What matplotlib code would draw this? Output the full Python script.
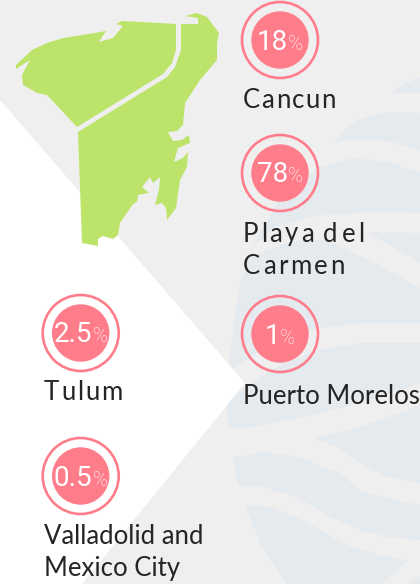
import matplotlib
matplotlib.use('Agg')
from matplotlib import pyplot as plt
from matplotlib.patches import Circle, Polygon

# 値とラベル
values = ['18', '78', '1', '2.5', '0.5']
labels = ['Cancun', 'Playa del\nCarmen', 'Puerto Morelos', 'Tulum', 'Valladolid and\nMexico City']
label_spacing = [1.4, 2.5, 0, 1.8, 0]

# 円の中心（ピクセル）
circle_x = [280, 280, 280, 80.7, 80.7]
circle_y = [40, 173, 334, 333, 476]
label_x = [243, 243, 243, 44, 44]
label_y = [108, 241.5, 404, 400.5, 544]

PINK = '#ff7d8b'
GREEN = '#bde46a'
GREY = '#efefef'
BLUE = '#e5eaef'
INK = '#242424'
FONT = 'Lato'
VALUE_FONT = 'Roboto'

# 背景の形
white_wedge = [(0, 100), (245, 383), (82, 584), (0, 584)]
blue_top = [(392, 93), (405, 84), (420, 77), (420, 93)]
blue_band1 = [(333, 143), (342, 132), (353, 123), (366, 117), (380, 113), (400, 112), (420, 113),
              (420, 150), (393, 142), (370, 139), (350, 140)]
blue_body = [(272, 213), (283, 194), (297, 183), (320, 167), (353, 158), (387, 162), (420, 173),
             (420, 584), (287, 584), (260, 543), (245, 505), (238, 486), (233, 458), (228, 427),
             (227, 400), (228, 367), (240, 283), (256, 240)]

# 青の上に重ねる帯
stripe1 = [(255, 245), (273, 228), (290, 222), (323, 215), (373, 212), (420, 213), (420, 233), (367, 232),
           (390, 245), (420, 263), (420, 288), (373, 262), (340, 247), (323, 240), (290, 242), (252, 256)]
stripe2 = [(227, 373), (270, 345), (320, 328), (360, 323), (420, 323), (420, 343), (360, 343), (320, 350),
           (280, 365), (227, 400)]
stripe3 = [(226, 428), (253, 427), (303, 417), (360, 403), (420, 383), (420, 405), (360, 427), (315, 439),
           (337, 447), (360, 463), (387, 477), (420, 483), (420, 505), (387, 498), (360, 490), (340, 473),
           (297, 457), (263, 452), (231, 458)]
stripe4 = [(236, 486), (263, 487), (297, 497), (330, 517), (360, 530), (387, 537), (420, 540), (420, 576),
           (408, 584), (382, 584), (408, 560), (383, 556), (350, 546), (337, 540), (303, 520), (270, 507),
           (243, 505)]

# 地図の輪郭
map_west = [(16, 65), (32, 50), (47, 43), (63, 38), (83, 35), (106, 31), (99, 42), (113, 38), (123, 26),
            (116, 24), (122, 21), (143, 22), (176, 24), (176, 50), (172, 63), (163, 74), (77, 127),
            (47, 95), (37, 93), (23, 85), (22, 75), (30, 60), (16, 69)]
map_east = [(181, 24), (198, 24), (198, 18), (185, 16), (197, 13), (207, 17), (219, 33), (217, 43),
            (217, 60), (200, 80), (185, 103), (183, 125), (177, 131), (168, 132), (173, 141), (182, 140),
            (189, 135), (190, 143), (178, 148), (174, 162), (183, 158), (188, 152), (187, 167), (180, 180),
            (176, 208), (167, 220), (166, 208), (162, 203), (155, 205), (159, 190), (160, 177), (153, 183),
            (150, 177), (142, 187), (149, 193), (138, 195), (137, 202), (133, 204), (120, 223), (118, 235),
            (113, 239), (103, 236), (98, 239), (98, 246), (82, 243), (78, 132), (167, 77), (175, 67), (181, 50)]


def draw_spaced(ax, renderer, x, y, text, spacing, size):
    """字間を空けて1行ぶんの文字列を描く"""
    if spacing == 0:
        ax.text(x, y, text, fontsize=size, family=FONT, color=INK, ha='left', va='baseline', zorder=6)
        return
    probe = ax.text(0, 0, '', fontsize=size, family=FONT)
    for i, ch in enumerate(text):
        offset = 0
        if i > 0:
            # 末尾の空白は幅に入らないので足しておく
            probe.set_text(text[:i].rstrip())
            offset = probe.get_window_extent(renderer).width
            if text[i - 1] == ' ':
                offset += size * 0.27
        ax.text(x + offset + spacing * i, y, ch, fontsize=size, family=FONT,
                color=INK, ha='left', va='baseline', zorder=6)
    probe.remove()


def draw_value(ax, renderer, x, y, value):
    """数字と小さい%を中央に揃えて描く"""
    num = ax.text(0, 0, value, fontsize=20, family=VALUE_FONT, color='white', va='baseline', zorder=6)
    pct = ax.text(0, 0, '%', fontsize=14.5, family=VALUE_FONT, weight='light', color='white',
                  va='baseline', zorder=6)
    num_w = num.get_window_extent(renderer).width
    pct_w = pct.get_window_extent(renderer).width
    left = x - (num_w + pct_w) / 2
    num.set_position((left, y))
    pct.set_position((left + num_w, y))


fig = plt.figure(figsize=(4.2, 5.84), dpi=100)
ax = fig.add_axes([0, 0, 1, 1])
ax.set_xlim(0, 420)
ax.set_ylim(584, 0)
ax.axis('off')
fig.patch.set_facecolor(GREY)
renderer = fig.canvas.get_renderer()

for shape in [blue_top, blue_band1, blue_body]:
    ax.add_patch(Polygon(shape, closed=True, fc=BLUE, ec='none', zorder=1))
for shape in [stripe1, stripe2, stripe3, stripe4]:
    ax.add_patch(Polygon(shape, closed=True, fc=GREY, ec='none', zorder=2))
ax.add_patch(Polygon(white_wedge, closed=True, fc='white', ec='none', zorder=3))

for shape in [map_west, map_east]:
    ax.add_patch(Polygon(shape, closed=True, fc=GREEN, ec='none', zorder=4))

for i in range(len(values)):
    ax.add_patch(Circle((circle_x[i], circle_y[i]), 38, fc='none', ec=PINK, lw=1.9, zorder=5))
    ax.add_patch(Circle((circle_x[i], circle_y[i]), 28.7, fc=PINK, ec='none', zorder=5))
    draw_value(ax, renderer, circle_x[i], circle_y[i] + 9.5, values[i])
    for j, line in enumerate(labels[i].split('\n')):
        draw_spaced(ax, renderer, label_x[i], label_y[i] + j * 32, line, label_spacing[i], 18.5)

fig.savefig('out.png', dpi=100, facecolor=fig.get_facecolor())
